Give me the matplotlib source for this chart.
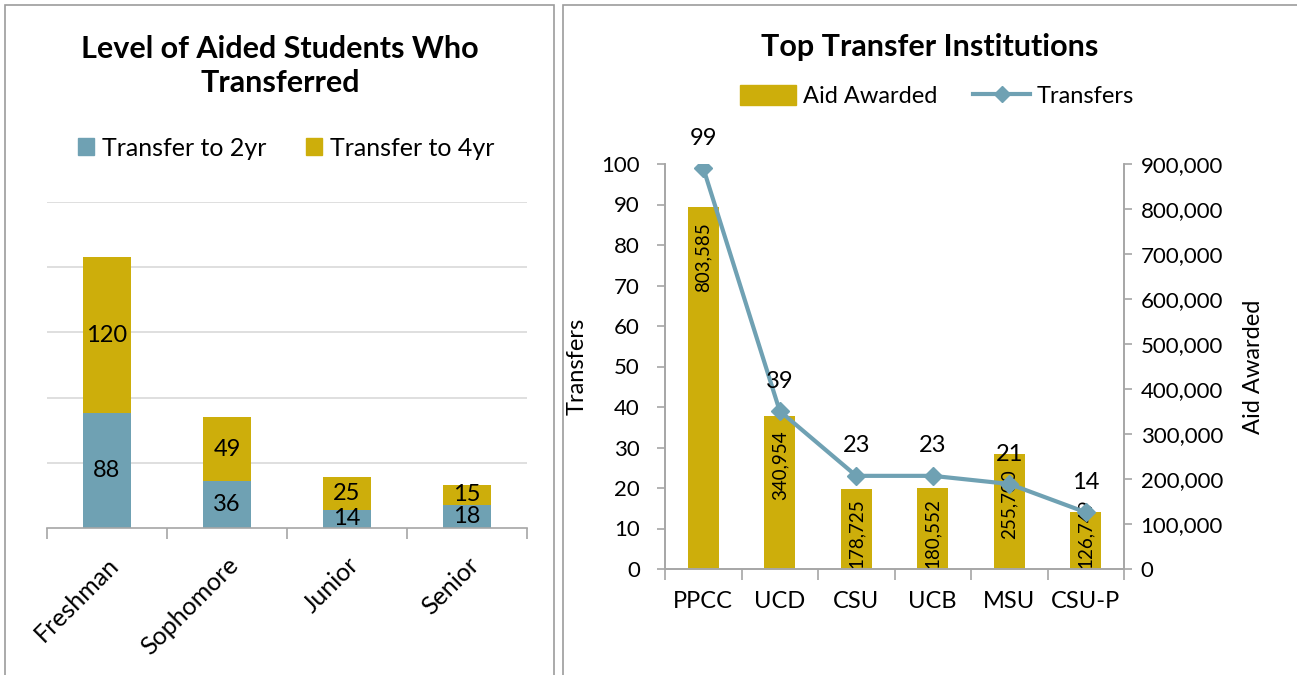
import matplotlib
matplotlib.use("Agg")
import matplotlib.pyplot as plt
import numpy as np
from matplotlib.patches import Rectangle
from matplotlib.lines import Line2D
from matplotlib.patches import Patch
from matplotlib.ticker import FuncFormatter

plt.rcParams['font.family'] = ['Lato', 'DejaVu Sans']

# ---- data ----
levels = ["Freshman", "Sophomore", "Junior", "Senior"]
to_2yr = [88, 36, 14, 18]
to_4yr = [120, 49, 25, 15]

institutions = ["PPCC", "UCD", "CSU", "UCB", "MSU", "CSU-P"]
transfers = [99, 39, 23, 23, 21, 14]
aid_awarded = [803585, 340954, 178725, 180552, 255700, 126749]

TEAL = "#6FA1B3"
GOLD = "#CDAE0B"
GREY = "#A6A6A6"

fig = plt.figure(figsize=(12.97, 6.75), dpi=100)

# panel borders
fig.patches.append(Rectangle((5/1297, -0.01), 549/1297, 1 - 5/675 + 0.01, transform=fig.transFigure,
                             fill=False, edgecolor="#9C9C9C", linewidth=1.2))
fig.patches.append(Rectangle((563/1297, -0.01), 1.0, 1 - 5/675 + 0.01, transform=fig.transFigure,
                             fill=False, edgecolor="#9C9C9C", linewidth=1.2))

# ---- left chart ----
ax1 = fig.add_axes([47/1297, (675-528)/675, 480/1297, 326/675])
x = np.arange(len(levels))
b1 = ax1.bar(x, to_2yr, width=0.4, color=TEAL, label="Transfer to 2yr")
b2 = ax1.bar(x, to_4yr, width=0.4, bottom=to_2yr, color=GOLD, label="Transfer to 4yr")
for rect, v in zip(b1, to_2yr):
    ax1.text(rect.get_x() + rect.get_width()/2, rect.get_y() + rect.get_height()/2, str(v),
             ha="center", va="center", fontsize=17, color="black")
for rect, v in zip(b2, to_4yr):
    ax1.text(rect.get_x() + rect.get_width()/2, rect.get_y() + rect.get_height()/2, str(v),
             ha="center", va="center", fontsize=17, color="black")
ax1.set_xlim(-0.5, len(levels) - 0.5)
ax1.set_ylim(0, 250)
ax1.set_yticks([50, 100, 150, 200, 250])
ax1.yaxis.grid(True, color="#D9D9D9", linewidth=1.2)
ax1.set_axisbelow(True)
ax1.tick_params(axis="y", left=False, labelleft=False)
for s in ["left", "right", "top"]:
    ax1.spines[s].set_visible(False)
ax1.spines["bottom"].set_color(GREY)
ax1.spines["bottom"].set_linewidth(1.2)
ax1.set_xticks(x)
ax1.set_xticklabels(levels, rotation=45, ha="right", rotation_mode="anchor", fontsize=18)
ax1.tick_params(axis="x", length=0, pad=18)
ax1.set_xticks(np.arange(-0.5, len(levels)), minor=True)
ax1.tick_params(axis="x", which="minor", length=8, color=GREY, width=1.2)

fig.text(280/1297, 1 - 66/675, "Level of Aided Students Who\nTransferred", ha="center", va="center",
         fontsize=22, fontweight="bold", linespacing=1.25)
ax1.legend(handles=[Patch(color=TEAL), Patch(color=GOLD)],
           labels=["Transfer to 2yr", "Transfer to 4yr"],
           loc="center", bbox_to_anchor=(286/1297, 1 - 148/675), bbox_transform=fig.transFigure,
           ncol=2, frameon=False, fontsize=18, handlelength=0.65, handleheight=0.65,
           handletextpad=0.3, columnspacing=1.6)

# ---- right chart ----
ax2 = fig.add_axes([665/1297, (675-569)/675, 459/1297, 405/675])
ax3 = ax2.twinx()
xi = np.arange(len(institutions))
bars = ax3.bar(xi, aid_awarded, width=0.4, color=GOLD, zorder=1)
ax3.set_ylim(0, 900000)
TOP_PAD, BOTTOM_PAD, LABEL_LEN = 33000, 9000, 148000
for rect, v in zip(bars, aid_awarded):
    h = rect.get_height()
    top = max(h - TOP_PAD, LABEL_LEN + BOTTOM_PAD)
    ax3.text(rect.get_x() + rect.get_width()/2, top, f"{v:,}",
             rotation=90, ha="center", va="top", fontsize=13.5, color="black")
ax3.set_yticks(np.arange(0, 900001, 100000))
ax3.yaxis.set_major_formatter(FuncFormatter(lambda v, p: f"{int(v):,}"))
ax3.set_ylabel("Aid Awarded", fontsize=17, labelpad=14)

ax2.set_zorder(ax3.get_zorder() + 1)
ax2.patch.set_visible(False)
ax2.plot(xi, transfers, color=TEAL, linewidth=3, marker="D", markersize=9, zorder=3)
for xx, v in zip(xi, transfers):
    ax2.annotate(str(v), (xx, v), xytext=(0, 14), textcoords="offset points",
                 ha="center", va="bottom", fontsize=17)
ax2.set_ylim(0, 100)
ax2.set_yticks(np.arange(0, 101, 10))
ax2.set_ylabel("Transfers", fontsize=17, labelpad=10)
ax2.set_xlim(-0.5, len(institutions) - 0.5)
ax2.set_xticks(xi)
ax2.set_xticklabels(institutions, fontsize=17)
ax2.tick_params(axis="x", length=0, pad=16)
ax2.set_xticks(np.arange(-0.5, len(institutions)), minor=True)
ax2.tick_params(axis="x", which="minor", length=8, color=GREY, width=1.2)

for a in (ax2, ax3):
    a.spines["top"].set_visible(False)
    for s in ["left", "right", "bottom"]:
        a.spines[s].set_color(GREY)
        a.spines[s].set_linewidth(1.2)
    a.tick_params(axis="y", labelsize=16, color=GREY, length=6, width=1.2)
ax2.tick_params(axis="y", pad=12)
ax3.tick_params(axis="y", pad=6)

fig.text(930/1297, 1 - 47/675, "Top Transfer Institutions", ha="center", va="center",
         fontsize=22, fontweight="bold")
ax2.legend(handles=[Patch(color=GOLD),
                    Line2D([0], [0], color=TEAL, linewidth=3, marker="D", markersize=8)],
           labels=["Aid Awarded", "Transfers"],
           loc="center", bbox_to_anchor=(937/1297, 1 - 96/675), bbox_transform=fig.transFigure,
           ncol=2, frameon=False, fontsize=17, handlelength=2.4, handleheight=0.9,
           handletextpad=0.3, columnspacing=1.5)

fig.savefig("out.png", dpi=100)
